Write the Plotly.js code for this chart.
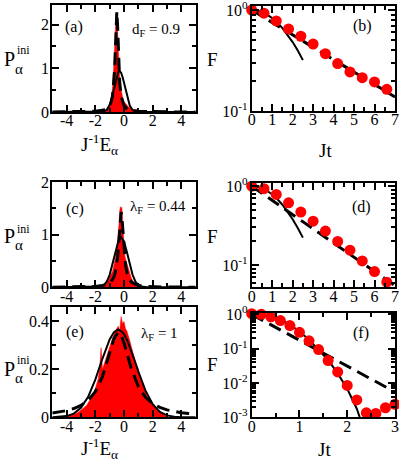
<!DOCTYPE html>
<html>
<head>
<meta charset="utf-8">
<script src="https://cdn.plot.ly/plotly-3.0.1.min.js"></script>
<style>
  html, body { margin: 0; padding: 0; background: #fff; }
  #chart { width: 399px; height: 466px; }
</style>
</head>
<body>
<div id="chart"></div>
<script>
const W = 399;
const H = 466;

// --- panel (a): energy distribution, d_F = 0.9
const aHistX = [-1.5, -1.3, -1.1, -1.0, -0.9, -0.85, -0.8, -0.75, -0.7, -0.65, -0.6, -0.55, -0.5, -0.45, -0.4, -0.35, -0.3, -0.25, -0.2, -0.15, -0.1, 0, 0.1, 0.2, 0.3, 0.4, 0.5, 0.6, 0.8, 1.0, 1.2, 1.4, 1.6, 1.8];
const aHistY = [0, 0.02, 0.08, 0.14, 0.3, 0.4, 0.55, 0.8, 1.1, 1.45, 1.9, 2.25, 2.2, 1.75, 1.4, 1.05, 0.8, 0.62, 0.5, 0.4, 0.34, 0.24, 0.2, 0.15, 0.12, 0.1, 0.08, 0.06, 0.05, 0.04, 0.03, 0.03, 0.02, 0];
const aDashX = [-5, -3, -2, -1.5, -1.2, -1.0, -0.9, -0.8, -0.7, -0.65, -0.6, -0.55, -0.5, -0.45, -0.4, -0.35, -0.3, -0.2, -0.1, 0, 0.2, 0.5, 1, 2, 3, 5];
const aDashY = [0.0019, 0.0062, 0.017, 0.038, 0.077, 0.146, 0.22, 0.364, 0.68, 0.99, 1.45, 2.0, 2.3, 2.0, 1.45, 0.99, 0.68, 0.364, 0.22, 0.146, 0.077, 0.038, 0.017, 0.0062, 0.0032, 0.0013];
const aSolidX = [-5, -2, -1.6, -1.4, -1.2, -1.0, -0.9, -0.8, -0.7, -0.6, -0.5, -0.4, -0.31, -0.2, -0.1, 0, 0.1, 0.2, 0.3, 0.4, 0.6, 0.8, 1.0, 1.5, 5];
const aSolidY = [0, 0, 0.002, 0.012, 0.052, 0.165, 0.264, 0.391, 0.539, 0.692, 0.824, 0.912, 0.94, 0.899, 0.80, 0.662, 0.509, 0.364, 0.242, 0.149, 0.046, 0.010, 0.002, 0, 0];

// --- panel (c): lambda_F = 0.44
const cHistX = [-1.7, -1.5, -1.3, -1.1, -1.0, -0.9, -0.8, -0.7, -0.6, -0.5, -0.45, -0.4, -0.35, -0.3, -0.25, -0.2, -0.15, -0.1, -0.05, 0, 0.05, 0.1, 0.2, 0.3, 0.4, 0.5, 0.6, 0.7, 0.8, 0.9, 1.0, 1.2];
const cHistY = [0, 0.02, 0.05, 0.12, 0.2, 0.25, 0.3, 0.4, 0.55, 0.72, 0.85, 1.0, 1.2, 1.45, 1.53, 1.5, 1.52, 1.25, 1.0, 0.8, 0.62, 0.55, 0.45, 0.33, 0.24, 0.18, 0.13, 0.09, 0.05, 0.03, 0.01, 0];
const cDashX = [-5, -3, -2, -1.5, -1.2, -1.0, -0.9, -0.8, -0.7, -0.6, -0.5, -0.45, -0.4, -0.35, -0.3, -0.25, -0.2, -0.15, -0.1, -0.05, 0, 0.05, 0.1, 0.2, 0.3, 0.4, 0.5, 0.6, 0.8, 1.1, 1.6, 2.6, 5];
const cDashY = [0.0025, 0.0073, 0.0174, 0.033, 0.055, 0.084, 0.108, 0.143, 0.197, 0.286, 0.44, 0.558, 0.715, 0.915, 1.144, 1.346, 1.43, 1.346, 1.144, 0.915, 0.715, 0.558, 0.44, 0.286, 0.197, 0.143, 0.108, 0.084, 0.055, 0.033, 0.0174, 0.0073, 0.0021];
const cSolidX = [-5, -2, -1.8, -1.6, -1.4, -1.2, -1.0, -0.8, -0.6, -0.4, -0.2, 0, 0.2, 0.4, 0.6, 0.8, 1.0, 1.2, 1.4, 1.6, 5];
const cSolidY = [0, 0.0008, 0.0037, 0.0135, 0.0417, 0.108, 0.237, 0.435, 0.672, 0.871, 0.95, 0.871, 0.672, 0.435, 0.237, 0.108, 0.0417, 0.0135, 0.0037, 0.0008, 0];

// --- panel (e): lambda_F = 1
const eHistX = [-4.2, -4.0, -3.6, -3.2, -2.8, -2.6, -2.4, -2.2, -2.0, -1.8, -1.7, -1.6, -1.5, -1.4, -1.2, -1.0, -0.8, -0.6, -0.4, -0.3, -0.2, -0.1, 0, 0.1, 0.2, 0.4, 0.6, 0.8, 1.0, 1.2, 1.4, 1.6, 1.8, 2.0, 2.2, 2.4, 2.6, 2.8, 3.0];
const eHistY = [0, 0.005, 0.01, 0.02, 0.04, 0.05, 0.07, 0.09, 0.12, 0.16, 0.2, 0.29, 0.2, 0.22, 0.26, 0.3, 0.33, 0.36, 0.38, 0.36, 0.42, 0.39, 0.40, 0.37, 0.36, 0.32, 0.27, 0.23, 0.2, 0.15, 0.12, 0.09, 0.07, 0.055, 0.04, 0.03, 0.02, 0.01, 0];
const eDashX = [-5, -4.5, -4, -3.5, -3, -2.5, -2, -1.5, -1, -0.7, -0.4, -0.2, 0, 0.5, 1, 1.5, 2, 2.5, 3, 3.5, 4, 4.5, 5];
const eDashY = [0.0176, 0.0218, 0.0278, 0.0365, 0.0498, 0.071, 0.1069, 0.1693, 0.2676, 0.328, 0.355, 0.3426, 0.31, 0.2046, 0.1278, 0.0831, 0.057, 0.0411, 0.0309, 0.024, 0.0191, 0.0156, 0.0129];
const eSolidX = [-5, -4.5, -4, -3.5, -3, -2.5, -2, -1.5, -1.25, -1, -0.7, -0.4, -0.1, 0, 0.25, 0.5, 0.75, 1, 1.5, 2, 2.5, 3, 3.5, 4, 5];
const eSolidY = [0.0003, 0.0014, 0.005, 0.0153, 0.0392, 0.0853, 0.157, 0.245, 0.288, 0.325, 0.355, 0.366, 0.355, 0.347, 0.318, 0.28, 0.236, 0.191, 0.111, 0.0546, 0.0227, 0.008, 0.0024, 0.0006, 0.0001];

// --- panel (b): fidelity F(Jt)
const bDotT = [0, 0.6, 1.2, 1.8, 2.4, 3.0, 3.6, 4.2, 4.8, 5.4, 6.0, 6.6];
const bDotF = [1.0, 0.93, 0.78, 0.65, 0.55, 0.46, 0.37, 0.295, 0.244, 0.214, 0.194, 0.164];
const bSolidT = [0, 0.25, 0.5, 0.75, 1.0, 1.25, 1.5, 1.75, 2.0, 2.25, 2.5];
const bSolidF = [1, 0.989, 0.955, 0.902, 0.833, 0.752, 0.663, 0.572, 0.482, 0.397, 0.319];
const bDashT = [0, 7];
const bDashF = [1.0, 0.138];

// --- panel (d)
const dDotT = [0, 0.6, 1.2, 1.8, 2.4, 3.0, 3.6, 4.2, 4.8, 5.4, 6.0, 6.6];
const dDotF = [1.0, 0.93, 0.785, 0.615, 0.47, 0.36, 0.27, 0.20, 0.155, 0.113, 0.083, 0.061];
const dSolidT = [0, 0.25, 0.5, 0.75, 1.0, 1.25, 1.5, 1.75, 2.0, 2.25, 2.5];
const dSolidF = [1, 0.985, 0.942, 0.874, 0.786, 0.687, 0.582, 0.479, 0.382, 0.296, 0.223];
const dDashT = [0, 7];
const dDashF = [1.0, 0.055];

// --- panel (f)
const fDotT = [0, 0.2, 0.4, 0.6, 0.8, 1.0, 1.2, 1.4, 1.6, 1.8, 2.0, 2.2, 2.4, 2.6, 2.8, 3.0];
const fDotF = [1.05, 1.0, 0.85, 0.66, 0.47, 0.30, 0.17, 0.094, 0.045, 0.021, 0.0085, 0.0032, 0.00135, 0.0013, 0.0019, 0.0024];
const fSolidT = [0, 0.2, 0.4, 0.6, 0.8, 1.0, 1.2, 1.4, 1.6, 1.8, 2.0, 2.2, 2.3];
const fSolidF = [1, 0.966, 0.871, 0.708, 0.501, 0.316, 0.182, 0.0955, 0.0468, 0.0191, 0.00676, 0.00178, 0.0007];
const fDashT = [0, 2.85];
const fDashF = [1.0, 0.0071];

// tick labels
const eTickVals = [-4, -2, 0, 2, 4];
const eTickText = ['-4', '-2', '0', '2', '4'];
const logTickVals = [1, 0.1, 0.01, 0.001];
const logTickText = ['10<sup>0</sup>', '10<sup>-1</sup>', '10<sup>-2</sup>', '10<sup>-3</sup>'];
const minorLog = [0.002, 0.003, 0.004, 0.005, 0.006, 0.007, 0.008, 0.009,
  0.02, 0.03, 0.04, 0.05, 0.06, 0.07, 0.08, 0.09,
  0.2, 0.3, 0.4, 0.5, 0.6, 0.7, 0.8, 0.9];

const FONT = 'Liberation Serif, Times New Roman, Times, DejaVu Serif, serif';
const RED = '#ff0000';

// px helpers
const fx = (x) => x / W;
const fy = (y) => 1 - y / H;

const hist = (x, y, xa, ya) => ({
  x, y, xaxis: xa, yaxis: ya,
  type: 'scatter', mode: 'lines', fill: 'tozeroy',
  fillcolor: RED, line: { color: RED, width: 0.5 },
});
const dashed = (x, y, xa, ya) => ({
  x, y, xaxis: xa, yaxis: ya,
  type: 'scatter', mode: 'lines',
  line: { color: 'black', width: 3, dash: '13px,7px' },
});
const solid = (x, y, xa, ya) => ({
  x, y, xaxis: xa, yaxis: ya,
  type: 'scatter', mode: 'lines',
  line: { color: 'black', width: 2 },
});
const dots = (x, y, xa, ya) => ({
  x, y, xaxis: xa, yaxis: ya,
  type: 'scatter', mode: 'markers', cliponaxis: false,
  marker: { color: RED, size: 11, line: { width: 0 } },
});

const data = [
  hist(aHistX, aHistY, 'x', 'y'),
  dashed(aDashX, aDashY, 'x', 'y'),
  solid(aSolidX, aSolidY, 'x', 'y'),

  dashed(bDashT, bDashF, 'x2', 'y2'),
  solid(bSolidT, bSolidF, 'x2', 'y2'),
  dots(bDotT, bDotF, 'x2', 'y2'),

  hist(cHistX, cHistY, 'x3', 'y3'),
  dashed(cDashX, cDashY, 'x3', 'y3'),
  solid(cSolidX, cSolidY, 'x3', 'y3'),

  dashed(dDashT, dDashF, 'x4', 'y4'),
  solid(dSolidT, dSolidF, 'x4', 'y4'),
  dots(dDotT, dDotF, 'x4', 'y4'),

  hist(eHistX, eHistY, 'x5', 'y5'),
  dashed(eDashX, eDashY, 'x5', 'y5'),
  solid(eSolidX, eSolidY, 'x5', 'y5'),

  dashed(fDashT, fDashF, 'x6', 'y6'),
  solid(fSolidT, fSolidF, 'x6', 'y6'),
  dots(fDotT, fDotF, 'x6', 'y6'),
];

// shared axis look: thick frame, ticks inside on all four sides
function axis(extra) {
  return Object.assign({
    showline: true, linewidth: 2, linecolor: 'black', mirror: 'allticks',
    ticks: 'inside', ticklen: 7, tickwidth: 2, tickcolor: 'black',
    showgrid: false, zeroline: false, fixedrange: true,
    ticklabeloverflow: 'allow',
    tickfont: { family: FONT, size: 16, color: 'black' },
  }, extra);
}
const minor = (extra) => Object.assign({ ticks: 'inside', ticklen: 4, tickwidth: 2, tickcolor: 'black' }, extra);

const leftX = [fx(52.3), fx(195.7)];
const rightX = [fx(251.7), fx(395)];

const energyX = (anchor) => axis({
  anchor, domain: leftX, range: [-5, 5],
  tickmode: 'array', tickvals: eTickVals, ticktext: eTickText,
  ticklabelstandoff: -7,
  minor: minor({ dtick: 1, tick0: 0 }),
});
const timeX = (anchor, max) => axis({
  anchor, domain: rightX, range: [0, max], dtick: 1, tick0: 0,
  ticklabelstandoff: -7,
  minor: minor({ dtick: 0.5, tick0: 0 }),
});
const linY = (anchor, top, bottom, max, step) => axis({
  anchor, domain: [fy(bottom), fy(top)], range: [0, max], dtick: step, tick0: 0,
  ticklabelstandoff: -2,
  minor: minor({ dtick: step / 2, tick0: 0 }),
});
const logY = (anchor, top, bottom, lo) => axis({
  anchor, domain: [fy(bottom), fy(top)], type: 'log', range: [lo, 0.04],
  tickmode: 'array', tickvals: logTickVals, ticktext: logTickText,
  ticklabelstandoff: -1,
  minor: minor({ tickmode: 'array', tickvals: minorLog }),
});

const layout = {
  width: W, height: H,
  margin: { l: 0, r: 0, t: 0, b: 0 },
  paper_bgcolor: 'white', plot_bgcolor: 'white',
  showlegend: false,
  font: { family: FONT, color: 'black', size: 16 },

  xaxis: energyX('y'),
  yaxis: linY('x', 5, 112, 2.45, 1),

  xaxis2: timeX('y2', 7),
  yaxis2: logY('x2', 6, 111, -1),

  xaxis3: energyX('y3'),
  yaxis3: linY('x3', 182, 287.3, 2, 1),

  xaxis4: timeX('y4', 7),
  yaxis4: logY('x4', 183, 287.3, -1.28),

  xaxis5: energyX('y5'),
  yaxis5: linY('x5', 307, 417.3, 0.46, 0.2),

  xaxis6: timeX('y6', 3),
  yaxis6: logY('x6', 313, 417.3, -3),

  annotations: [],
};

function note(text, x, y, size, xanchor) {
  layout.annotations.push({
    text, xref: 'paper', yref: 'paper', x: fx(x), y: fy(y),
    xanchor: xanchor || 'center', yanchor: 'middle', showarrow: false,
    font: { family: FONT, size, color: 'black' },
  });
}

// panel letters and parameters
note('(a)', 74, 27, 16);
note('(b)', 362, 26, 16);
note('(c)', 75, 209, 16);
note('(d)', 361, 207, 16);
note('(e)', 75, 332, 16);
note('(f)', 361, 333, 16);
note('d<sub>F</sub> = 0.9', 156, 30, 15);
note('λ<sub>F</sub> = 0.44', 158, 207, 15);
note('λ<sub>F</sub> = 1', 159, 334, 15);

// y titles  P_alpha^ini  (stacked sub/sup) and F
[[58.5, 69.5, 50], [235.5, 245, 228.5], [368.5, 378, 360]].forEach(([p, a, s]) => {
  note('P', 1.5, p, 20, 'left');
  note('α', 13, a, 15, 'left');
  note('ini', 15, s, 12, 'left');
});
note('F', 212.5, 59, 19);
note('F', 212.5, 236, 19);
note('F', 212.5, 364, 19);

// x titles
note('J<sup>-1</sup>E<sub>α</sub>', 99, 144, 19);
note('J<sup>-1</sup>E<sub>α</sub>', 99, 448, 19);
note('Jt', 325, 150, 19);
note('Jt', 324, 449, 19);

Plotly.newPlot('chart', data, layout, { staticPlot: true, displayModeBar: false });
</script>
</body>
</html>
